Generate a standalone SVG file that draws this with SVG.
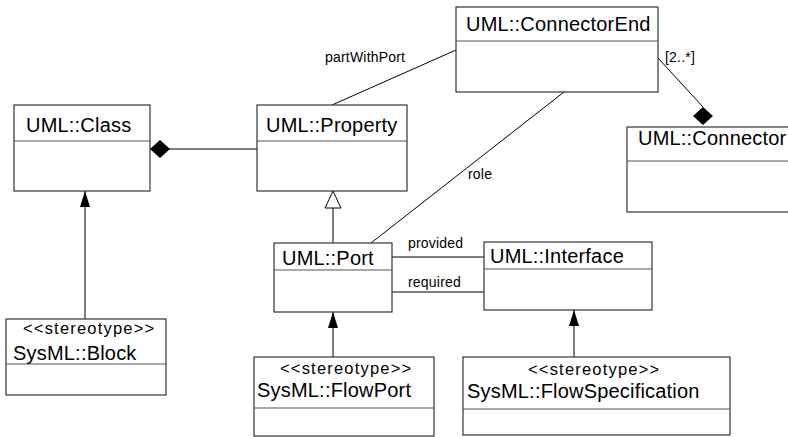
<svg xmlns="http://www.w3.org/2000/svg" width="788" height="437" viewBox="0 0 788 437">
<style>
.box{fill:#fff;stroke:#333;stroke-width:1.2}
.div{stroke:#555;stroke-width:1.2}
.name{font-family:"Liberation Sans",Arial,sans-serif;font-size:20px;letter-spacing:0.2px;fill:#000}
.st{font-family:"Liberation Sans",Arial,sans-serif;font-size:16.5px;letter-spacing:1.2px;fill:#000}
.lbl{font-family:"Liberation Sans",Arial,sans-serif;font-size:14px;letter-spacing:0.2px;fill:#000}
.ln{fill:none;stroke:#000;stroke-width:1}
</style>
<defs>
<marker id="arrow" markerUnits="userSpaceOnUse" markerWidth="16" markerHeight="10" refX="16" refY="5" orient="auto" overflow="visible">
<path d="M0,0 L16,5 L0,10 z" fill="#000"/>
</marker>
<marker id="gen" markerUnits="userSpaceOnUse" markerWidth="17" markerHeight="16" refX="17" refY="8" orient="auto" overflow="visible">
<path d="M0,0 L17,8 L0,16 z" fill="#fff" stroke="#000" stroke-width="1"/>
</marker>
<marker id="diamond" markerUnits="userSpaceOnUse" markerWidth="20" markerHeight="18" refX="0" refY="9" orient="auto" overflow="visible">
<path d="M0,9 L10,0 L20,9 L10,18 z" fill="#000"/>
</marker>
<marker id="diamondDown" markerUnits="userSpaceOnUse" markerWidth="20" markerHeight="18" refX="10" refY="0" orient="0" overflow="visible">
<path d="M10,0 L20,9 L10,18 L0,9 z" fill="#000"/>
</marker>
</defs>

<g id="connectors">
<line class="ln" x1="150" y1="149" x2="257" y2="149" marker-start="url(#diamond)"/>
<line class="ln" x1="456" y1="50" x2="332" y2="105"/>
<text class="lbl" x="325" y="62">partWithPort</text>
<line class="ln" x1="564" y1="92" x2="371" y2="243"/>
<text class="lbl" x="468" y="179">role</text>
<line class="ln" x1="658" y1="58" x2="703" y2="107" marker-end="url(#diamondDown)"/>
<text class="lbl" x="665" y="62">[2..*]</text>
<line class="ln" x1="333" y1="243" x2="333" y2="191" marker-end="url(#gen)"/>
<line class="ln" x1="392" y1="257" x2="484" y2="257"/>
<text class="lbl" x="408" y="248">provided</text>
<line class="ln" x1="392" y1="292" x2="484" y2="292"/>
<text class="lbl" x="408" y="287">required</text>
<line class="ln" x1="85" y1="319" x2="85" y2="191" marker-end="url(#arrow)"/>
<line class="ln" x1="333" y1="357" x2="333" y2="312" marker-end="url(#arrow)"/>
<line class="ln" x1="574" y1="357" x2="574" y2="310" marker-end="url(#arrow)"/>
</g>

<g id="class">
<rect class="box" x="14" y="105" width="136" height="86"/>
<line class="div" x1="14" y1="141" x2="150" y2="141"/>
<text class="name" x="26" y="132">UML::Class</text>
</g>
<g id="property">
<rect class="box" x="257" y="105" width="150" height="86"/>
<line class="div" x1="257" y1="141" x2="407" y2="141"/>
<text class="name" x="266" y="132">UML::Property</text>
</g>
<g id="connectorEnd">
<rect class="box" x="456" y="7" width="202" height="85"/>
<line class="div" x1="456" y1="41" x2="658" y2="41"/>
<text class="name" x="466" y="31">UML::ConnectorEnd</text>
</g>
<g id="connector">
<rect class="box" x="627" y="127" width="180" height="85"/>
<line class="div" x1="627" y1="161" x2="807" y2="161"/>
<text class="name" x="638" y="145">UML::Connector</text>
</g>
<g id="port">
<rect class="box" x="274" y="243" width="118" height="69"/>
<line class="div" x1="274" y1="270" x2="392" y2="270"/>
<text class="name" x="282" y="265">UML::Port</text>
</g>
<g id="interface">
<rect class="box" x="484" y="242" width="168" height="68"/>
<line class="div" x1="484" y1="269" x2="652" y2="269"/>
<text class="name" x="490" y="263">UML::Interface</text>
</g>
<g id="block">
<rect class="box" x="6" y="319" width="160" height="76"/>
<line class="div" x1="6" y1="364" x2="166" y2="364"/>
<text class="st" x="23" y="334">&lt;&lt;stereotype&gt;&gt;</text>
<text class="name" x="13" y="360">SysML::Block</text>
</g>
<g id="flowPort">
<rect class="box" x="254" y="357" width="180" height="79"/>
<line class="div" x1="254" y1="408" x2="434" y2="408"/>
<text class="st" x="280" y="374">&lt;&lt;stereotype&gt;&gt;</text>
<text class="name" x="257" y="397">SysML::FlowPort</text>
</g>
<g id="flowSpecification">
<rect class="box" x="463" y="357" width="267" height="78"/>
<line class="div" x1="463" y1="409" x2="730" y2="409"/>
<text class="st" x="528" y="375">&lt;&lt;stereotype&gt;&gt;</text>
<text class="name" x="467" y="398">SysML::FlowSpecification</text>
</g>
</svg>
